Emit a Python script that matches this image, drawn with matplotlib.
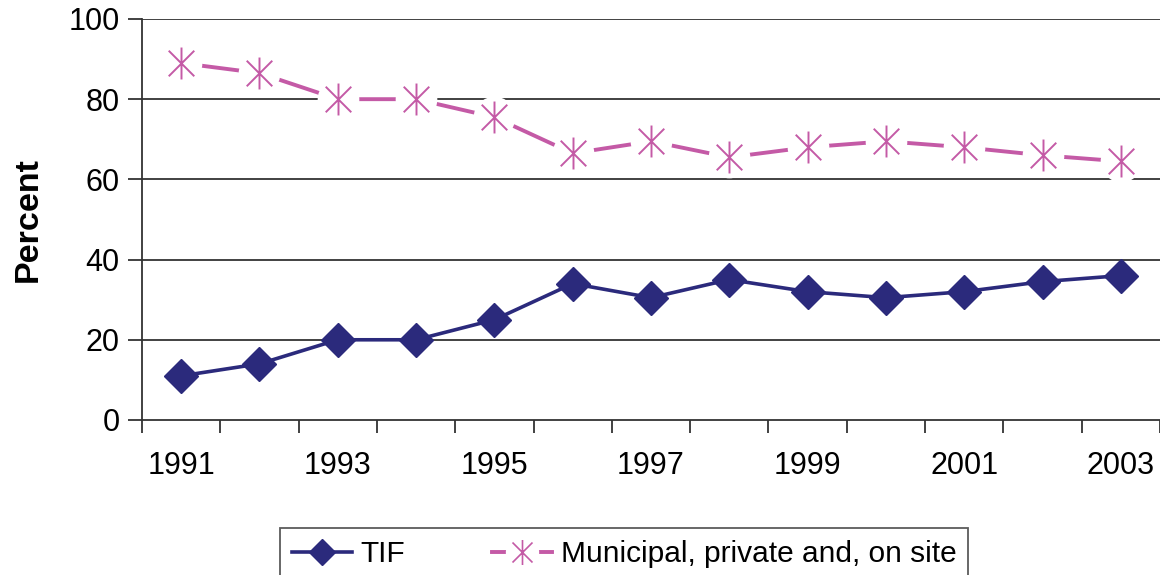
import numpy as np
import matplotlib.pyplot as plt
from matplotlib.path import Path
from matplotlib.lines import Line2D

plt.rcParams["font.family"] = ["Liberation Sans", "DejaVu Sans"]

years = [1991, 1992, 1993, 1994, 1995, 1996, 1997, 1998, 1999, 2000, 2001, 2002, 2003]
tif = [11, 14, 20, 20, 25, 34, 30.5, 35, 32, 30.5, 32, 34.5, 36]
municipal = [89, 86.5, 80, 80, 75.5, 66.5, 69.5, 65.5, 68, 69.5, 68, 66, 64.5]
year_labels = ["1991", "", "1993", "", "1995", "", "1997", "", "1999", "", "2001", "", "2003"]
y_ticks = [0, 20, 40, 60, 80, 100]

NAVY = "#2b2a7c"
PINK = "#c45aa6"

# Excel-style star: vertical bar plus an X
star = Path(
    [(0, -1), (0, 1), (-0.8, -0.8), (0.8, 0.8), (-0.8, 0.8), (0.8, -0.8)],
    [Path.MOVETO, Path.LINETO, Path.MOVETO, Path.LINETO, Path.MOVETO, Path.LINETO],
)

fig = plt.figure(figsize=(11.6, 5.75), dpi=100)
ax = fig.add_axes([0.1224, 0.2696, 0.8776, 0.6974])

x = np.arange(len(years))

for y in y_ticks[1:]:
    ax.axhline(y, color="#333333", lw=1.3, zorder=1)

ax.plot(x, tif, color=NAVY, lw=2.6, marker="D", ms=17, mfc=NAVY, mec=NAVY, zorder=3)

ax.plot(x, municipal, color=PINK, lw=2.8, zorder=2)
ax.plot(x, municipal, ls="none", marker="o", ms=30, mfc="white", mec="none", zorder=3)
ax.plot(x, municipal, ls="none", marker=star, ms=23, mec=PINK, mew=1.4, zorder=4)

ax.set_xlim(-0.5, len(years) - 0.5)
ax.set_ylim(0, 100)
ax.set_yticks(y_ticks)
ax.tick_params(axis="y", labelsize=22, length=10, width=1.3, color="#333333", pad=6)

ax.set_xticks(np.arange(len(years) + 1) - 0.5)
ax.set_xticklabels([])
ax.tick_params(axis="x", which="major", length=9, width=1.3, color="#333333")
ax.set_xticks(x, minor=True)
ax.set_xticklabels(year_labels, minor=True, fontsize=22)
ax.tick_params(axis="x", which="minor", length=0, pad=22)

ax.set_ylabel("Percent", fontsize=24.5, fontweight="bold", labelpad=18)

for side in ["top", "right"]:
    ax.spines[side].set_visible(False)
for side in ["left", "bottom"]:
    ax.spines[side].set_color("#333333")
    ax.spines[side].set_linewidth(1.3)

tif_handle = Line2D([], [], color=NAVY, lw=2.6, marker="D", ms=13, mfc=NAVY, mec=NAVY)
mun_handle = (
    Line2D([], [], color=PINK, lw=2.8),
    Line2D([], [], ls="none", marker="o", ms=24, mfc="white", mec="none"),
    Line2D([], [], ls="none", marker=star, ms=18, mec=PINK, mew=1.2),
)
leg = fig.legend(
    [tif_handle, mun_handle],
    ["TIF", "Municipal, private and, on site"],
    loc="upper center",
    bbox_to_anchor=(0.538, 0.0817),
    ncol=2,
    fontsize=21.5,
    frameon=True,
    fancybox=False,
    edgecolor="#333333",
    handlelength=2.0,
    handletextpad=0.3,
    columnspacing=2.9,
    borderpad=0.4,
    borderaxespad=0,
)
leg.get_frame().set_linewidth(1.3)

fig.savefig("out.png", dpi=100)
